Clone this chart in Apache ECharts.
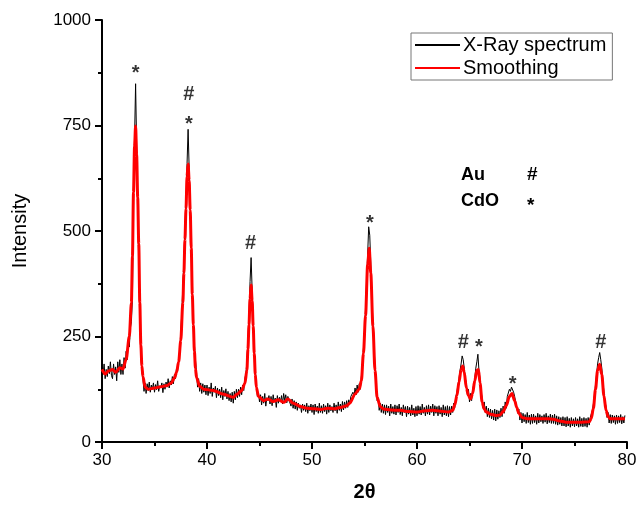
<!DOCTYPE html>
<html><head><meta charset="utf-8">
<script src="https://cdn.jsdelivr.net/npm/echarts@6/dist/echarts.min.js"></script>
<style>html,body{margin:0;padding:0;background:#fff}#c{width:644px;height:507px}</style>
</head><body><div id="c"></div>
<script>
// Raw X-ray spectrum, sampled every 0.1 degree from 30.0
var rawStart = 30.0, rawStep = 0.1;
var rawIntensity = [
178,160,185,150,172,155,180,162,190,158,
150,185,160,178,145,190,165,195,160,185,
160,200,175,215,195,240,225,270,285,340,
600,720,849,700,560,420,290,210,165,150,
120,140,115,138,122,142,118,135,125,140,
118,136,124,145,120,133,128,140,117,138,
125,142,130,150,128,145,135,155,138,160,
150,175,168,195,210,262,305,370,430,505,
570,660,741,650,560,480,360,285,230,195,
165,130,150,120,140,115,138,118,135,112,
135,110,130,115,140,108,128,118,132,105,
128,110,125,105,130,100,122,108,126,102,
120,98,115,95,118,92,120,100,125,105,
125,108,130,112,135,122,150,160,190,240,
300,380,437,360,290,220,170,138,108,118,
95,112,88,108,92,115,85,105,98,110,
90,108,86,112,95,104,82,110,92,106,
95,110,90,115,98,112,93,108,100,96,
85,102,80,98,78,95,75,92,80,88,
70,90,75,88,72,92,68,86,74,90,
70,88,65,90,72,85,68,92,70,86,
68,90,72,86,66,92,70,88,74,84,
70,92,74,88,68,95,75,90,72,96,
76,95,80,98,82,100,90,108,112,118,
108,128,112,135,118,138,125,155,180,222,
258,315,380,445,510,490,420,345,285,230,
180,140,98,105,75,92,70,90,68,88,
65,88,70,85,62,90,68,84,66,88,
64,86,70,90,65,82,62,88,70,84,
60,85,66,82,62,88,64,80,60,84,
62,86,66,84,64,90,68,82,62,86,
66,88,64,85,70,90,62,86,68,84,
62,86,66,82,60,88,64,84,62,86,
60,84,64,85,70,92,82,108,118,135,
150,170,185,204,195,175,150,140,112,125,
95,115,98,125,135,150,175,190,208,170,
150,120,105,80,95,70,85,60,80,58,
78,55,75,52,78,50,76,54,74,58,
80,60,85,68,95,80,108,110,125,120,
130,133,118,108,95,92,68,78,52,70,
45,68,48,65,44,70,46,64,42,66,
44,66,46,62,42,68,45,65,48,62,
44,65,47,68,43,62,46,66,44,64,
44,66,42,62,40,60,42,58,38,60,
38,58,36,60,38,56,35,58,38,55,
36,58,38,55,35,60,37,56,36,58,
37,56,35,58,40,58,60,75,90,110,
135,160,185,200,212,195,175,145,120,95,
85,58,70,45,65,44,64,46,62,42,
64,44,62,46,65,43,60,45,63
];
// Smoothed curve read at key angles
var smoothAngle = [30.0,30.3,30.6,31.0,31.3,31.7,32.0,32.3,32.6,32.8,32.9,33.0,33.1,33.2,33.3,33.4,33.5,33.6,33.7,33.8,33.9,34.1,34.4,35.0,35.6,36.2,36.6,36.9,37.1,37.3,37.5,37.7,37.8,37.9,38.0,38.1,38.2,38.3,38.4,38.5,38.6,38.7,38.8,38.9,39.0,39.3,39.7,40.6,41.5,42.5,42.9,43.3,43.6,43.8,43.9,44.0,44.1,44.2,44.3,44.4,44.5,44.6,44.7,44.9,45.4,45.8,46.3,46.8,47.3,47.7,48.2,48.9,49.5,50.2,50.8,51.5,52.2,52.7,53.3,53.6,54.1,54.5,54.7,54.9,55.1,55.3,55.45,55.6,55.8,56.0,56.2,56.5,56.8,57.5,58.4,59.2,60.0,60.8,61.5,62.3,63.0,63.4,63.6,63.8,64.0,64.2,64.35,64.5,64.7,64.9,65.1,65.3,65.5,65.7,65.85,66.0,66.2,66.4,66.6,67.0,67.5,67.9,68.2,68.5,68.8,69.05,69.3,69.5,69.7,70.0,70.5,71.5,72.5,73.0,73.6,74.2,75.5,76.4,76.6,76.8,77.0,77.2,77.4,77.6,77.8,78.0,78.2,78.4,79.8];
var smoothIntensity = [172,161,168,172,165,176,173,196,250,330,440,592,700,749,680,580,470,330,230,180,155,130,125,128,131,134,140,152,165,190,240,330,400,480,553,630,659,620,550,460,350,278,215,175,153,132,125,122,114,106,114,122,138,170,220,278,340,372,335,275,210,160,130,108,98,102,96,100,94,102,92,84,80,79,77,80,79,82,86,92,114,125,145,210,300,420,459,400,275,170,106,84,78,76,75,72,71,74,75,73,71,75,88,110,142,172,180,165,128,110,102,115,145,170,172,140,95,78,71,66,63,64,72,86,108,115,98,82,68,58,55,55,55,54,50,47,47,48,56,80,125,170,184,160,110,75,60,55,55];
// Peak markers
var markAngle = [33.2, 38.27, 38.27, 44.16, 55.52, 64.4, 65.9, 69.1, 77.5];
var markLevel = [885, 824, 765, 471, 529, 235, 235, 148, 235];
var markText  = ['*', '#', '*', '#', '*', '#', '*', '*', '#'];
var xTicks = [30, 40, 50, 60, 70, 80];
var yTicks = [0, 250, 500, 750, 1000];

var rawData = rawIntensity.map(function(v, i){ return [+(rawStart + i*rawStep).toFixed(2), v]; });
var smoothData = smoothAngle.map(function(a, i){ return [a, smoothIntensity[i]]; });
var markData = markAngle.map(function(a, i){
  return {value: [a, markLevel[i]], label: {formatter: markText[i], offset: markText[i] === '*' ? [0, 5] : [0, 0]}};
});

var FONT = 'Liberation Sans, Arial, sans-serif';
var chart = echarts.init(document.getElementById('c'), null, {renderer: 'canvas'});
chart.setOption({
  animation: false,
  backgroundColor: '#fff',
  grid: {left: 102, right: 17, top: 20, bottom: 62, containLabel: false},
  xAxis: {
    type: 'value', min: xTicks[0], max: xTicks[xTicks.length-1], interval: 10,
    name: '2θ', nameLocation: 'middle', nameGap: 40,
    nameTextStyle: {fontFamily: FONT, fontSize: 20, fontWeight: 'bold', color: '#000'},
    axisLine: {onZero: false, lineStyle: {color: '#000', width: 2}},
    axisTick: {inside: false, length: 7, lineStyle: {color: '#000', width: 2}},
    minorTick: {show: true, splitNumber: 2, length: 4, lineStyle: {color: '#000', width: 2}},
    axisLabel: {fontFamily: FONT, fontSize: 17, color: '#000', margin: 10},
    splitLine: {show: false}
  },
  yAxis: {
    type: 'value', min: yTicks[0], max: yTicks[yTicks.length-1], interval: 250,
    name: 'Intensity', nameLocation: 'middle', nameGap: 72, nameRotate: 90,
    nameTextStyle: {fontFamily: FONT, fontSize: 20, color: '#000'},
    axisLine: {show: true, lineStyle: {color: '#000', width: 2}},
    axisTick: {show: true, inside: false, length: 7, lineStyle: {color: '#000', width: 2}},
    minorTick: {show: true, splitNumber: 2, length: 4, lineStyle: {color: '#000', width: 2}},
    axisLabel: {fontFamily: FONT, fontSize: 17, color: '#000', margin: 11,
                formatter: function(v){ return String(v); }},
    splitLine: {show: false}
  },
  legend: {
    orient: 'vertical', left: 411, top: 33,
    data: ['X-Ray spectrum', 'Smoothing'],
    itemWidth: 45, itemHeight: 12, itemGap: 3,
    itemStyle: {opacity: 0},
    borderColor: '#777', borderWidth: 1, borderRadius: 0,
    padding: [2, 6, 2, 3],
    textStyle: {fontFamily: FONT, fontSize: 20, color: '#000', padding: [0, 0, 0, -2]}
  },
  series: [
    {name: 'X-Ray spectrum', type: 'line', data: rawData, showSymbol: false, symbol: 'none',
     lineStyle: {color: '#000', width: 1}, itemStyle: {color: '#000'}, z: 2},
    {name: 'Smoothing', type: 'line', data: smoothData, showSymbol: false, symbol: 'none',
     smooth: 0.3, smoothMonotone: 'x',
     lineStyle: {color: '#ff0000', width: 3}, itemStyle: {color: '#ff0000'}, z: 3},
    {name: 'marks', type: 'scatter', data: markData, symbolSize: 1, itemStyle: {color: 'rgba(0,0,0,0)'},
     label: {show: true, position: 'inside', fontFamily: FONT, fontSize: 20, fontWeight: 'bold', color: '#000'},
     silent: true, z: 4}
  ],
  graphic: [
    {type: 'text', left: 461, top: 166, style: {text: 'Au', fontFamily: FONT, fontSize: 18, fontWeight: 'bold', fill: '#000'}},
    {type: 'text', left: 527, top: 165, style: {text: '#', fontFamily: FONT, fontSize: 19, fontWeight: 'bold', fill: '#000'}},
    {type: 'text', left: 461, top: 192, style: {text: 'CdO', fontFamily: FONT, fontSize: 18, fontWeight: 'bold', fill: '#000'}},
    {type: 'text', left: 527, top: 196, style: {text: '*', fontFamily: FONT, fontSize: 19, fontWeight: 'bold', fill: '#000'}}
  ]
});
</script></body></html>
